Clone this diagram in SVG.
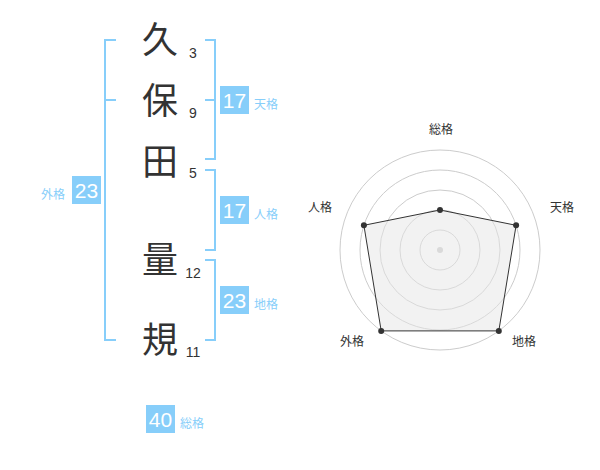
<svg xmlns="http://www.w3.org/2000/svg" width="600" height="470" viewBox="0 0 600 470">
<style>
.kanji{font-family:"Noto Sans CJK JP","Noto Sans CJK SC",sans-serif;font-size:36px;fill:#333;text-anchor:middle}
.num{font-family:"Liberation Sans",Arial,sans-serif;font-size:14px;fill:#333;text-anchor:middle}
.br{fill:none;stroke:#87cefa;stroke-width:2}
.box{fill:#87cefa}
.bn{font-family:"Liberation Sans",Arial,sans-serif;font-size:21px;fill:#fff;text-anchor:middle}
.bl{font-family:"Noto Sans CJK JP","Noto Sans CJK SC",sans-serif;font-size:12px;fill:#87cefa}
.rl{font-family:"Noto Sans CJK JP","Noto Sans CJK SC",sans-serif;font-size:12px;fill:#333;text-anchor:middle}
.ring{fill:none;stroke:#ccc;stroke-width:1}
</style>
<rect width="600" height="470" fill="#fff"/>
<g id="chars">
<g id="c1"><text class="kanji" x="160" y="53">久</text><text class="num" x="193" y="58">3</text></g>
<g id="c2"><text class="kanji" x="160" y="114">保</text><text class="num" x="193" y="118">9</text></g>
<g id="c3"><text class="kanji" x="160" y="175">田</text><text class="num" x="193" y="178">5</text></g>
<g id="c4"><text class="kanji" x="160" y="273">量</text><text class="num" x="193" y="278">12</text></g>
<g id="c5"><text class="kanji" x="160" y="353">規</text><text class="num" x="193" y="357">11</text></g>
</g>
<g id="connectors">
<path class="br" d="M116,40 H105 V340 H116 M105,100 H116"/>
<path class="br" d="M205,40 H215 V159 H205 M205,100 H215"/>
<path class="br" d="M205,170 H215 V250 H205"/>
<path class="br" d="M205,260 H215 V340 H205"/>
</g>
<g id="tenkaku"><rect class="box" x="220" y="86" width="29" height="28"/><text class="bn" x="234.5" y="107.5">17</text><text class="bl" x="254" y="109">天格</text></g>
<g id="jinkaku"><rect class="box" x="220" y="196" width="29" height="28"/><text class="bn" x="234.5" y="217.5">17</text><text class="bl" x="254" y="219">人格</text></g>
<g id="chikaku"><rect class="box" x="220" y="286" width="29" height="28"/><text class="bn" x="234.5" y="307.5">23</text><text class="bl" x="254" y="309">地格</text></g>
<g id="gaikaku"><rect class="box" x="72" y="176" width="29" height="28"/><text class="bn" x="86.5" y="197.5">23</text><text class="bl" x="41" y="199">外格</text></g>
<g id="soukaku"><rect class="box" x="146" y="405" width="29" height="28"/><text class="bn" x="160.5" y="426.5">40</text><text class="bl" x="180" y="428">総格</text></g>
<g id="radar">
<circle class="ring" cx="440" cy="250" r="20"/>
<circle class="ring" cx="440" cy="250" r="40"/>
<circle class="ring" cx="440" cy="250" r="60"/>
<circle class="ring" cx="440" cy="250" r="80"/>
<circle class="ring" cx="440" cy="250" r="100"/>
<circle cx="440" cy="250" r="3" fill="#ccc"/>
<polygon points="440,210 516.1,225.3 498.8,330.9 381.2,330.9 363.9,225.3" fill="#e6e6e6" fill-opacity="0.5" stroke="#333" stroke-width="1"/>
<g fill="#333">
<circle cx="440" cy="210" r="3"/>
<circle cx="516.1" cy="225.3" r="3"/>
<circle cx="498.8" cy="330.9" r="3"/>
<circle cx="381.2" cy="330.9" r="3"/>
<circle cx="363.9" cy="225.3" r="3"/>
</g>
<text class="rl" x="441" y="134">総格</text>
<text class="rl" x="562" y="212">天格</text>
<text class="rl" x="320" y="212">人格</text>
<text class="rl" x="352" y="346">外格</text>
<text class="rl" x="524" y="346">地格</text>
</g>
</svg>
